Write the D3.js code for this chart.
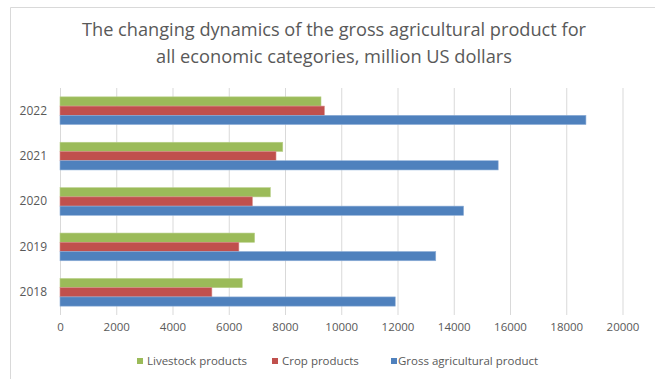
<!DOCTYPE html>
<html>
<head>
<meta charset="utf-8">
<script src="https://cdn.jsdelivr.net/npm/d3@7"></script>
<style>
  html, body { margin: 0; padding: 0; background: #ffffff; }
  svg { display: block; }
</style>
</head>
<body>
<svg id="chart" width="655" height="379"></svg>
<script>
const years = ["2022", "2021", "2020", "2019", "2018"];
const seriesNames = ["Livestock products", "Crop products", "Gross agricultural product"];
const livestock = [9280, 7920, 7480, 6920, 6480];
const crop = [9400, 7680, 6840, 6360, 5400];
const gross = [18700, 15580, 14350, 13360, 11920];
const xTicks = [0, 2000, 4000, 6000, 8000, 10000, 12000, 14000, 16000, 18000, 20000];
const titleLines = ["The changing dynamics of the gross agricultural product for", "all economic categories, million US dollars"];
const colors = ["#9BBB59", "#C0504D", "#4F81BD"];
const strokes = ["#b9d08a", "#d88a88", "#8fb0d8"];

const seriesValues = [livestock, crop, gross];
const rows = years.map((y, i) => ({ year: y, values: seriesValues.map(s => s[i]) }));

const svg = d3.select("#chart");
const textColor = "#595959";
const font = "'Open Sans', 'Noto Sans', sans-serif";

// chart frame (cut off at right and bottom like the reference)
svg.append("path")
  .attr("d", "M10.5,379 L10.5,7.5 L655,7.5")
  .attr("fill", "none")
  .attr("stroke", "#d9d9d9")
  .attr("stroke-width", 1);

// title
const titleWidths = [504, 356];
svg.append("g").selectAll("text")
  .data(titleLines)
  .join("text")
  .attr("x", 334)
  .attr("y", (d, i) => 36 + i * 27)
  .attr("text-anchor", "middle")
  .attr("font-family", font)
  .attr("font-size", 17.5)
  .attr("fill", textColor)
  .attr("textLength", (d, i) => titleWidths[i])
  .attr("lengthAdjust", "spacingAndGlyphs")
  .text(d => d);

const plot = { left: 60, right: 622.5, top: 88, bottom: 315 };

const x = d3.scaleLinear().domain([0, 20000]).range([plot.left, plot.right]);
const y = d3.scaleBand().domain(years).range([plot.top, plot.bottom])
  .paddingInner(0.39).paddingOuter(0.195);
const ySub = d3.scaleBand().domain(seriesNames).range([0, y.bandwidth()]);

// gridlines
svg.append("g")
  .attr("transform", `translate(0,${plot.bottom})`)
  .call(d3.axisBottom(x).tickValues(xTicks).tickSize(-(plot.bottom - plot.top)).tickFormat(""))
  .call(g => g.select(".domain").remove())
  .call(g => g.selectAll(".tick line").attr("stroke", "#d9d9d9").attr("stroke-width", 1));

// x axis labels
svg.append("g")
  .attr("transform", `translate(0,${plot.bottom})`)
  .call(d3.axisBottom(x).tickValues(xTicks).tickSize(0).tickPadding(8).tickFormat(d3.format("d")))
  .call(g => g.select(".domain").remove())
  .call(g => g.selectAll("text")
    .attr("font-family", font)
    .attr("font-size", 11.5)
    .attr("fill", textColor));

// y axis labels
svg.append("g")
  .attr("transform", `translate(${plot.left},0)`)
  .call(d3.axisLeft(y).tickSize(0).tickPadding(13))
  .call(g => g.select(".domain").remove())
  .call(g => g.selectAll("text")
    .attr("font-family", font)
    .attr("font-size", 12)
    .attr("fill", textColor));

// bars
const groups = svg.append("g").selectAll("g")
  .data(rows)
  .join("g")
  .attr("transform", d => `translate(0,${y(d.year)})`);

groups.selectAll("rect")
  .data(d => d.values.map((v, i) => ({ name: seriesNames[i], value: v, idx: i })))
  .join("rect")
  .attr("x", x(0))
  .attr("y", d => ySub(d.name))
  .attr("width", d => x(d.value) - x(0))
  .attr("height", ySub.bandwidth())
  .attr("fill", d => colors[d.idx])
  .attr("stroke", d => strokes[d.idx])
  .attr("stroke-width", 0.6);

// legend
const legendItems = [
  { name: seriesNames[0], sx: 137, tx: 147 },
  { name: seriesNames[1], sx: 272, tx: 282 },
  { name: seriesNames[2], sx: 391, tx: 398 }
];
const legend = svg.append("g");
legend.selectAll("rect")
  .data(legendItems)
  .join("rect")
  .attr("x", d => d.sx)
  .attr("y", 358)
  .attr("width", 6)
  .attr("height", 6)
  .attr("fill", (d, i) => colors[i]);
legend.selectAll("text")
  .data(legendItems)
  .join("text")
  .attr("x", d => d.tx)
  .attr("y", 365)
  .attr("font-family", font)
  .attr("font-size", 11.5)
  .attr("fill", textColor)
  .text(d => d.name);
</script>
</body>
</html>
